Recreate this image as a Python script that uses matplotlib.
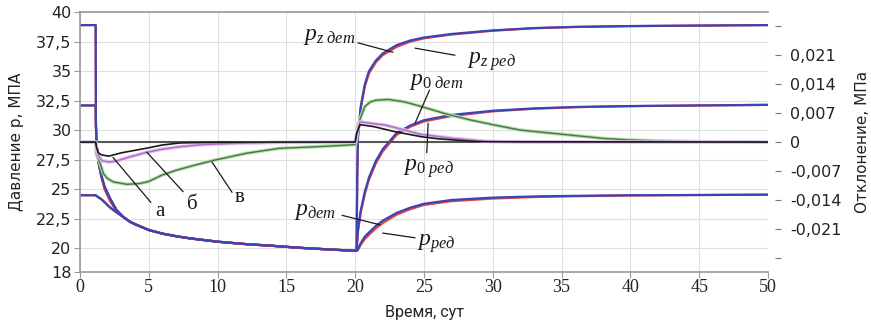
import numpy as np
import matplotlib
matplotlib.use("Agg")
from matplotlib import pyplot as plt
from matplotlib.ticker import FixedLocator, FixedFormatter

plt.rcParams['mathtext.fontset'] = 'custom'
plt.rcParams['mathtext.it'] = 'Liberation Serif:italic'
plt.rcParams['mathtext.rm'] = 'Liberation Serif'
plt.rcParams['font.family'] = ['DejaVu Sans']

# Pressures, MPa (left axis)
t_p = [0, 1.14, 1.16, 1.2, 1.28, 1.38, 1.57, 1.8, 2.2, 2.66, 3.1, 3.6, 4, 5, 6, 7, 8, 10, 12, 14, 16, 18, 20,
       20.1, 20.15, 20.2, 20.4, 20.7, 21, 21.5, 22, 23, 24, 25, 27, 30, 33, 36, 40, 45, 50]

pz_det = [38.9, 38.9, 30.5, 28.9, 28.0, 27.1, 26.1, 25.2, 24.2, 23.25, 22.72, 22.28, 22.05, 21.56, 21.25, 21.03,
          20.85, 20.57, 20.37, 20.22, 20.05, 19.92, 19.8,
          19.8, 26.0, 29.5, 32.0, 33.9, 35.0, 35.9, 36.5, 37.2, 37.6, 37.85, 38.15, 38.45, 38.65, 38.75, 38.82,
          38.86, 38.9]
pz_red = [38.9, 38.9, 30.5, 28.9, 28.0, 27.1, 26.0, 25.0, 24.0, 23.15, 22.7, 22.28, 22.05, 21.56, 21.25, 21.03,
          20.85, 20.57, 20.37, 20.22, 20.05, 19.92, 19.8,
          19.8, 25.8, 29.3, 31.8, 33.7, 34.8, 35.75, 36.35, 37.05, 37.5, 37.78, 38.1, 38.42, 38.63, 38.74, 38.81,
          38.86, 38.9]

p0_det = [32.1, 32.1, 30.5, 28.9, 28.0, 27.1, 26.1, 25.2, 24.2, 23.25, 22.72, 22.28, 22.05, 21.56, 21.25, 21.03,
          20.85, 20.57, 20.37, 20.22, 20.05, 19.92, 19.8,
          19.8, 20.8, 21.6, 23.2, 24.8, 26.0, 27.4, 28.4, 29.75, 30.4, 30.85, 31.3, 31.65, 31.85, 31.97, 32.05,
          32.1, 32.15]
p0_red = [32.1, 32.1, 30.5, 28.9, 28.0, 27.1, 26.0, 25.0, 24.0, 23.15, 22.7, 22.28, 22.05, 21.56, 21.25, 21.03,
          20.85, 20.57, 20.37, 20.22, 20.05, 19.92, 19.8,
          19.8, 20.7, 21.4, 23.0, 24.6, 25.8, 27.2, 28.2, 29.6, 30.3, 30.75, 31.2, 31.6, 31.82, 31.95, 32.04,
          32.1, 32.15]

p_det = [24.5, 24.5, 24.48, 24.45, 24.38, 24.3, 24.15, 23.9, 23.45, 23.05, 22.7, 22.28, 22.05, 21.56, 21.25,
         21.03, 20.85, 20.57, 20.37, 20.22, 20.05, 19.92, 19.8,
         19.8, 19.85, 19.95, 20.45, 21.0, 21.35, 21.9, 22.35, 23.0, 23.45, 23.78, 24.1, 24.3, 24.4, 24.45, 24.5,
         24.52, 24.55]
p_red = [24.5, 24.5, 24.48, 24.45, 24.38, 24.3, 24.15, 23.9, 23.45, 23.05, 22.7, 22.28, 22.05, 21.56, 21.25,
         21.03, 20.85, 20.57, 20.37, 20.22, 20.05, 19.92, 19.8,
         19.8, 19.82, 19.88, 20.3, 20.8, 21.15, 21.7, 22.15, 22.85, 23.32, 23.68, 24.0, 24.22, 24.35, 24.42,
         24.48, 24.52, 24.55]

# Deviations, MPa (right axis): a - black, б - violet, в - green
t_a = [0, 1.14, 1.2, 1.35, 1.57, 2.1, 3.0, 4.8, 6, 7.3, 9, 12, 20,
       20.1, 20.35, 21, 21.4, 22.9, 24.8, 26, 28, 29, 50]
dev_a = [0, 0, -0.0012, -0.0026, -0.0031, -0.0034, -0.0026, -0.0015, -0.0007, -0.0002, -0.0001, 0, 0,
         0.002, 0.0042, 0.0039, 0.0037, 0.0025, 0.0013, 0.0008, 0.0003, 0.0001, 0]

t_b = [0, 1.14, 1.2, 1.35, 1.6, 2.1, 2.6, 3.5, 4.8, 6, 7.3, 9, 11.4, 14, 20,
       20.1, 20.35, 21.2, 22.2, 23.6, 24.7, 27.1, 29.6, 32, 50]
dev_b = [0, 0, -0.0015, -0.0033, -0.0045, -0.0048, -0.0046, -0.0037, -0.0025, -0.0017, -0.0011, -0.0006,
         -0.0003, -0.0001, 0,
         0.002, 0.0049, 0.0045, 0.0041, 0.0029, 0.0019, 0.0009, 0.00015, 0, 0]

t_v = [0, 1.14, 1.2, 1.45, 1.7, 2.0, 2.42, 3.4, 4.36, 5.0, 5.95, 7, 8.2, 9.6, 10.7, 12.1, 13.1, 14.5, 16.7,
       18.5, 20, 20.1, 20.2, 20.35, 20.7, 21.1, 21.5, 22.4, 23.6, 24.8, 26.5, 28.3, 30, 32, 35.6, 38, 40, 42,
       45, 50]
dev_v = [0, 0, -0.0029, -0.005, -0.0076, -0.0088, -0.0096, -0.0102, -0.0100, -0.0095, -0.0080, -0.0068,
         -0.0057, -0.0045, -0.0037, -0.0027, -0.0022, -0.0015, -0.0012, -0.0009, -0.0006, 0.001, 0.004,
         0.0055, 0.0086, 0.0097, 0.0101, 0.0103, 0.0097, 0.0086, 0.0069, 0.0054, 0.0042, 0.0029, 0.0017,
         0.0009, 0.0005, 0.0003, 0.0001, 0]

left_ticks = [18, 20, 22.5, 25, 27.5, 30, 32.5, 35, 37.5, 40]
left_labels = ['18', '20', '22,5', '25', '27,5', '30', '32,5', '35', '37,5', '40']
right_ticks = [-0.028, -0.021, -0.014, -0.007, 0, 0.007, 0.014, 0.021, 0.028]
right_labels = ['', '-0,021', '-0,014', '-0,007', '0', '0,007', '0,014', '0,021', '']
x_ticks = [0, 5, 10, 15, 20, 25, 30, 35, 40, 45, 50]

BLUE = '#3a44b8'
RED = '#e8443c'
INK = '#1a1a1a'

fig = plt.figure(figsize=(8.71, 3.27), dpi=100)
ax = fig.add_axes([0.0918, 0.168, 0.790, 0.795])
ax.set_xlim(0, 50)
ax.set_ylim(18, 40)

# right axis: 0 lines up with 29 MPa, 0.007 MPa per ~2.45 MPa
k = 0.007 / 2.453
ax2 = ax.twinx()
ax2.set_ylim((18 - 29) * k, (40 - 29) * k)

ax.grid(True, color='#dedede', lw=0.8)
ax.set_axisbelow(True)

ax.plot(t_p, pz_red, color=RED, lw=1.6)
ax.plot(t_p, pz_det, color=BLUE, lw=1.6)
ax.plot(t_p, p0_red, color=RED, lw=1.6)
ax.plot(t_p, p0_det, color=BLUE, lw=1.6)
ax.plot(t_p, p_red, color=RED, lw=1.6)
ax.plot(t_p, p_det, color=BLUE, lw=1.6)

ax2.axhline(0, color='#555555', lw=1.5)
ax2.plot(t_v, dev_v, color='#bcdcb0', lw=2.6)
ax2.plot(t_v, dev_v, color='#3f7a3f', lw=1.0)
ax2.plot(t_b, dev_b, color='#e3c6ee', lw=2.6)
ax2.plot(t_b, dev_b, color='#b070c8', lw=1.1)
ax2.plot(t_a, dev_a, color=INK, lw=1.2)

# ticks and spines
ax.xaxis.set_major_locator(FixedLocator(x_ticks))
ax.yaxis.set_major_locator(FixedLocator(left_ticks))
ax.yaxis.set_major_formatter(FixedFormatter(left_labels))
ax2.yaxis.set_major_locator(FixedLocator(right_ticks))
ax2.yaxis.set_major_formatter(FixedFormatter(right_labels))

for s in ['left', 'bottom', 'top']:
    ax.spines[s].set_color('#9a9a9a')
    ax.spines[s].set_linewidth(1.2)
ax.spines['right'].set_visible(False)
ax2.spines['right'].set_position(('outward', 5))
for s in ax2.spines:
    ax2.spines[s].set_visible(False)

ax.tick_params(axis='y', length=4, color='#9a9a9a', labelsize=11.5, pad=2, labelcolor='#222222')
ax.tick_params(axis='x', length=4, color='#9a9a9a', labelsize=13, pad=1, labelcolor='#222222')
for lab in ax.get_xticklabels():
    lab.set_family('Liberation Serif')
ax2.tick_params(axis='y', length=4, color='#777777', labelsize=11.5, pad=7, labelcolor='#222222')

ax.set_ylabel('Давление р, МПА', fontsize=11, color='#222222', ha='center', va='center')
ax.yaxis.set_label_coords(-0.092, 0.5)
ax2.set_ylabel('Отклонение, МПа', fontsize=11, rotation=90, color='#222222', ha='center', va='center')
ax2.yaxis.set_label_coords(1.137, 0.5)
ax.set_xlabel('Время, сут', fontsize=11.5, color='#222222', family='Roboto', ha='center', va='center')
ax.xaxis.set_label_coords(0.5, -0.154)

# labels with leader lines (positions in left-axis units)
tr = ax.transData
labels = [
    (r'$p_{z\ дет}$', (18.1, 38.05), (20.2, 37.4), (22.75, 36.6)),
    (r'$p_{z\ ред}$', (29.9, 35.85), (24.35, 36.95), (27.25, 36.35)),
    (r'$p_{0\ дет}$', (25.9, 34.25), (25.4, 33.4), (24.35, 30.6)),
    (r'$p_{0\ ред}$', (25.3, 26.8), (25.2, 28.1), (25.3, 30.6)),
    (r'$p_{дет}$', (17.1, 23.25), (19.05, 22.8), (21.8, 22.0)),
    (r'$p_{ред}$', (25.9, 20.45), (22.0, 21.3), (24.35, 20.9)),
]
for txt, pos, a, b in labels:
    ax2.annotate('', xy=b, xycoords=tr, xytext=a, textcoords=tr,
                 arrowprops=dict(arrowstyle='-', lw=0.9, color=INK, shrinkA=0, shrinkB=0))
    ax2.text(pos[0], pos[1], txt, transform=tr, fontsize=17, ha='center', va='center', color=INK)

letters = [
    ('а', (5.8, 23.15), (5.15, 23.9), (2.4, 27.7)),
    ('б', (8.15, 23.7), (7.5, 24.8), (4.85, 28.15)),
    ('в', (11.6, 24.3), (11.05, 24.75), (9.6, 27.3)),
]
for txt, pos, a, b in letters:
    ax2.annotate('', xy=b, xycoords=tr, xytext=a, textcoords=tr,
                 arrowprops=dict(arrowstyle='-', lw=0.9, color=INK, shrinkA=0, shrinkB=0))
    ax2.text(pos[0], pos[1], txt, transform=tr, fontsize=15, ha='center', va='center',
             family='Liberation Serif', color=INK)

fig.savefig('out.png', dpi=100)
